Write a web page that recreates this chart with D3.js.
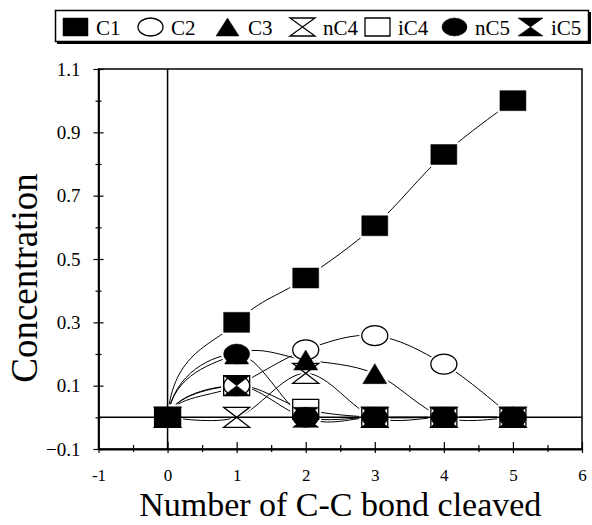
<!DOCTYPE html>
<html lang="en">
<head>
  <meta charset="utf-8">
  <title>Concentration vs C-C bond cleaved</title>
  <script type="text/javascript" src="https://cdn.jsdelivr.net/npm/d3@7/dist/d3.min.js"></script>
  <style>
    body { margin: 0; background: #fff; }
    svg, svg text { font-family: "Liberation Serif", "Times New Roman", "DejaVu Serif", serif; }
  </style>
</head>
<body>
  <script type="text/javascript">

  // data
  var bonds = [0, 1, 2, 3, 4, 5];
  var C1  = [0, 0.30, 0.44, 0.605, 0.83, 1.0];
  var C2  = [0, 0.10, 0.213, 0.258, 0.168, 0];
  var C3  = [0, 0.20, 0.181, 0.138, 0, 0];
  var nC4 = [0, 0, 0.139, 0, 0, 0];
  var iC4 = [0, 0.10, 0.025, 0, 0, 0];
  var nC5 = [0, 0.20, 0, 0, 0, 0];
  var iC5 = [0, 0.10, 0, 0, 0, 0];

  var seriesNames = ["C1", "C2", "C3", "nC4", "iC4", "nC5", "iC5"];
  var seriesValues = [C1, C2, C3, nC4, iC4, nC5, iC5];
  var seriesShapes = ["square", "ellipse", "triangle", "hourglass", "square", "ellipse", "hourglass"];
  var seriesFilled = [true, false, true, false, false, true, true];

  var xTicks = d3.range(-2, 13).map(i => i / 2);      // -1 .. 6 step 0.5
  var yTicks = d3.range(-1, 12).map(i => i / 10);     // -0.1 .. 1.1 step 0.1

  var width = 592, height = 525;
  var serif = "Liberation Serif, Times New Roman, DejaVu Serif, serif";

  var svg = d3.select("body").append("svg")
    .attr("width", width)
    .attr("height", height)
    .attr("font-family", serif);

  var x = d3.scaleLinear().domain([-1, 6]).range([98.5, 582]);
  var y = d3.scaleLinear().domain([-0.1, 1.1]).range([449, 69]);

  // marker shapes, centred on 0,0
  function markerPath(shape, w, h) {
    var a = w / 2, b = h / 2;
    if (shape == "square") return `M${-a},${-b}H${a}V${b}H${-a}Z`;
    if (shape == "triangle") return `M0,${-b}L${a - 1},${b}H${-a + 1}Z`;
    if (shape == "hourglass") return `M${-a},${-b}H${a}L${-a},${b}H${a}Z`;
    return `M${-a},0A${a},${b} 0 1,0 ${a},0A${a},${b} 0 1,0 ${-a},0Z`;
  }

  // smooth curve through the points; leaves the origin steeply like the original plot
  function smoothPath(vals) {
    var pts = vals.map((v, i) => [x(bonds[i]), y(v)]);
    var p = d3.path();
    p.moveTo(pts[0][0], pts[0][1]);
    for (var i = 0; i < pts.length - 1; i++) {
      var p0 = pts[Math.max(i - 1, 0)], p1 = pts[i], p2 = pts[i + 1], p3 = pts[Math.min(i + 2, pts.length - 1)];
      var c1x, c1y;
      if (i == 0) {
        c1x = p1[0] + (p2[0] - p1[0]) * 0.08;
        c1y = p1[1] + (p2[1] - p1[1]) * 0.7;
      } else {
        c1x = p1[0] + (p2[0] - p0[0]) / 6;
        c1y = p1[1] + (p2[1] - p0[1]) / 6;
      }
      var c2x = p2[0] - (p3[0] - p1[0]) / 6;
      var c2y = p2[1] - (p3[1] - p1[1]) / 6;
      p.bezierCurveTo(c1x, c1y, c2x, c2y, p2[0], p2[1]);
    }
    return p.toString();
  }

  // frame (top + right)
  svg.append("rect")
    .attr("x", x(-1)).attr("y", y(1.1))
    .attr("width", x(6) - x(-1)).attr("height", y(-0.1) - y(1.1))
    .attr("fill", "none").attr("stroke", "#000").attr("stroke-width", 1.5);

  // y axis
  var yAxis = svg.append("g")
    .attr("transform", `translate(${x(-1)},0)`)
    .call(d3.axisLeft(y).tickValues(yTicks).tickSize(5).tickPadding(13).tickSizeOuter(0)
      .tickFormat(d => Math.round(d * 10) % 2 != 0 ? d3.format(".1f")(d) : ""))
    .attr("font-family", serif)
    .attr("font-size", 19);
  yAxis.select(".domain").attr("stroke-width", 1.8);
  yAxis.selectAll(".tick line")
    .attr("x1", d => Math.round(d * 10) % 2 != 0 ? 5 : 3)
    .attr("x2", d => Math.round(d * 10) % 2 != 0 ? -5 : -3)
    .attr("stroke-width", 1.2);
  yAxis.selectAll(".tick text").attr("fill", "#000");

  // x axis
  var xAxis = svg.append("g")
    .attr("transform", `translate(0,${y(-0.1)})`)
    .call(d3.axisBottom(x).tickValues(xTicks).tickSize(4).tickPadding(16).tickSizeOuter(0)
      .tickFormat(d => Number.isInteger(d) ? d : ""))
    .attr("font-family", serif)
    .attr("font-size", 17);
  xAxis.select(".domain").attr("stroke-width", 1.8);
  xAxis.selectAll(".tick line")
    .attr("y1", d => Number.isInteger(d) ? -7 : -4)
    .attr("y2", d => Number.isInteger(d) ? 4 : 3)
    .attr("stroke-width", 1.2);
  xAxis.selectAll(".tick text").attr("fill", "#000");

  // axis titles
  svg.append("text")
    .attr("x", (x(-1) + x(6)) / 2).attr("y", 516)
    .attr("text-anchor", "middle").attr("font-size", 34)
    .text("Number of C-C bond cleaved");

  svg.append("text")
    .attr("transform", "translate(37,278) rotate(-90)")
    .attr("text-anchor", "middle").attr("font-size", 37)
    .text("Concentration");

  // curves
  svg.append("g")
    .selectAll("path")
    .data(seriesValues)
    .enter().append("path")
    .attr("d", d => smoothPath(d))
    .attr("fill", "none")
    .attr("stroke", "#000")
    .attr("stroke-width", 1);

  // flatten points
  var points = [];
  seriesValues.forEach((vals, s) => vals.forEach((v, i) => points.push({ s: s, x: bonds[i], v: v })));

  // white halos so curves stop short of the markers
  svg.append("g")
    .selectAll("path")
    .data(points)
    .enter().append("path")
    .attr("transform", d => `translate(${x(d.x)},${y(d.v)})`)
    .attr("d", d => markerPath(seriesShapes[d.s], 26, 20))
    .attr("fill", "#fff")
    .attr("stroke", "#fff")
    .attr("stroke-width", 5)
    .attr("stroke-linejoin", "round");

  // zero lines
  svg.append("line")
    .attr("x1", x(-1)).attr("x2", x(6)).attr("y1", y(0)).attr("y2", y(0))
    .attr("stroke", "#000").attr("stroke-width", 1.5);
  svg.append("line")
    .attr("x1", x(0)).attr("x2", x(0)).attr("y1", y(1.1)).attr("y2", y(-0.1))
    .attr("stroke", "#000").attr("stroke-width", 1.5);

  // markers
  svg.append("g")
    .selectAll("path")
    .data(points)
    .enter().append("path")
    .attr("transform", d => `translate(${x(d.x)},${y(d.v)})`)
    .attr("d", d => markerPath(seriesShapes[d.s], 26, 20))
    .attr("fill", d => seriesFilled[d.s] ? "#000" : "none")
    .attr("stroke", "#000")
    .attr("stroke-width", d => seriesFilled[d.s] ? 0.5 : 1.3);

  // legend
  var legendX = [63, 138, 215, 290, 365, 442, 518];
  var legend = svg.append("g");
  legend.append("rect")
    .attr("x", 57).attr("y", 12).attr("width", 534).attr("height", 32)
    .attr("fill", "#000");
  legend.append("rect")
    .attr("x", 55.5).attr("y", 10.5).attr("width", 533).attr("height", 31)
    .attr("fill", "#fff").attr("stroke", "#000").attr("stroke-width", 1.5);

  var item = legend.selectAll(".item")
    .data(seriesNames)
    .enter().append("g")
    .attr("transform", (d, i) => `translate(${legendX[i]},27)`);
  item.append("path")
    .attr("transform", "translate(12.5,0)")
    .attr("d", (d, i) => markerPath(seriesShapes[i], 25, 18))
    .attr("fill", (d, i) => seriesFilled[i] ? "#000" : "none")
    .attr("stroke", "#000")
    .attr("stroke-width", (d, i) => seriesFilled[i] ? 0.5 : 1.3);
  item.append("text")
    .attr("x", 33).attr("y", 7.5)
    .attr("font-size", 21)
    .text(d => d);

  </script>
</body>
</html>
